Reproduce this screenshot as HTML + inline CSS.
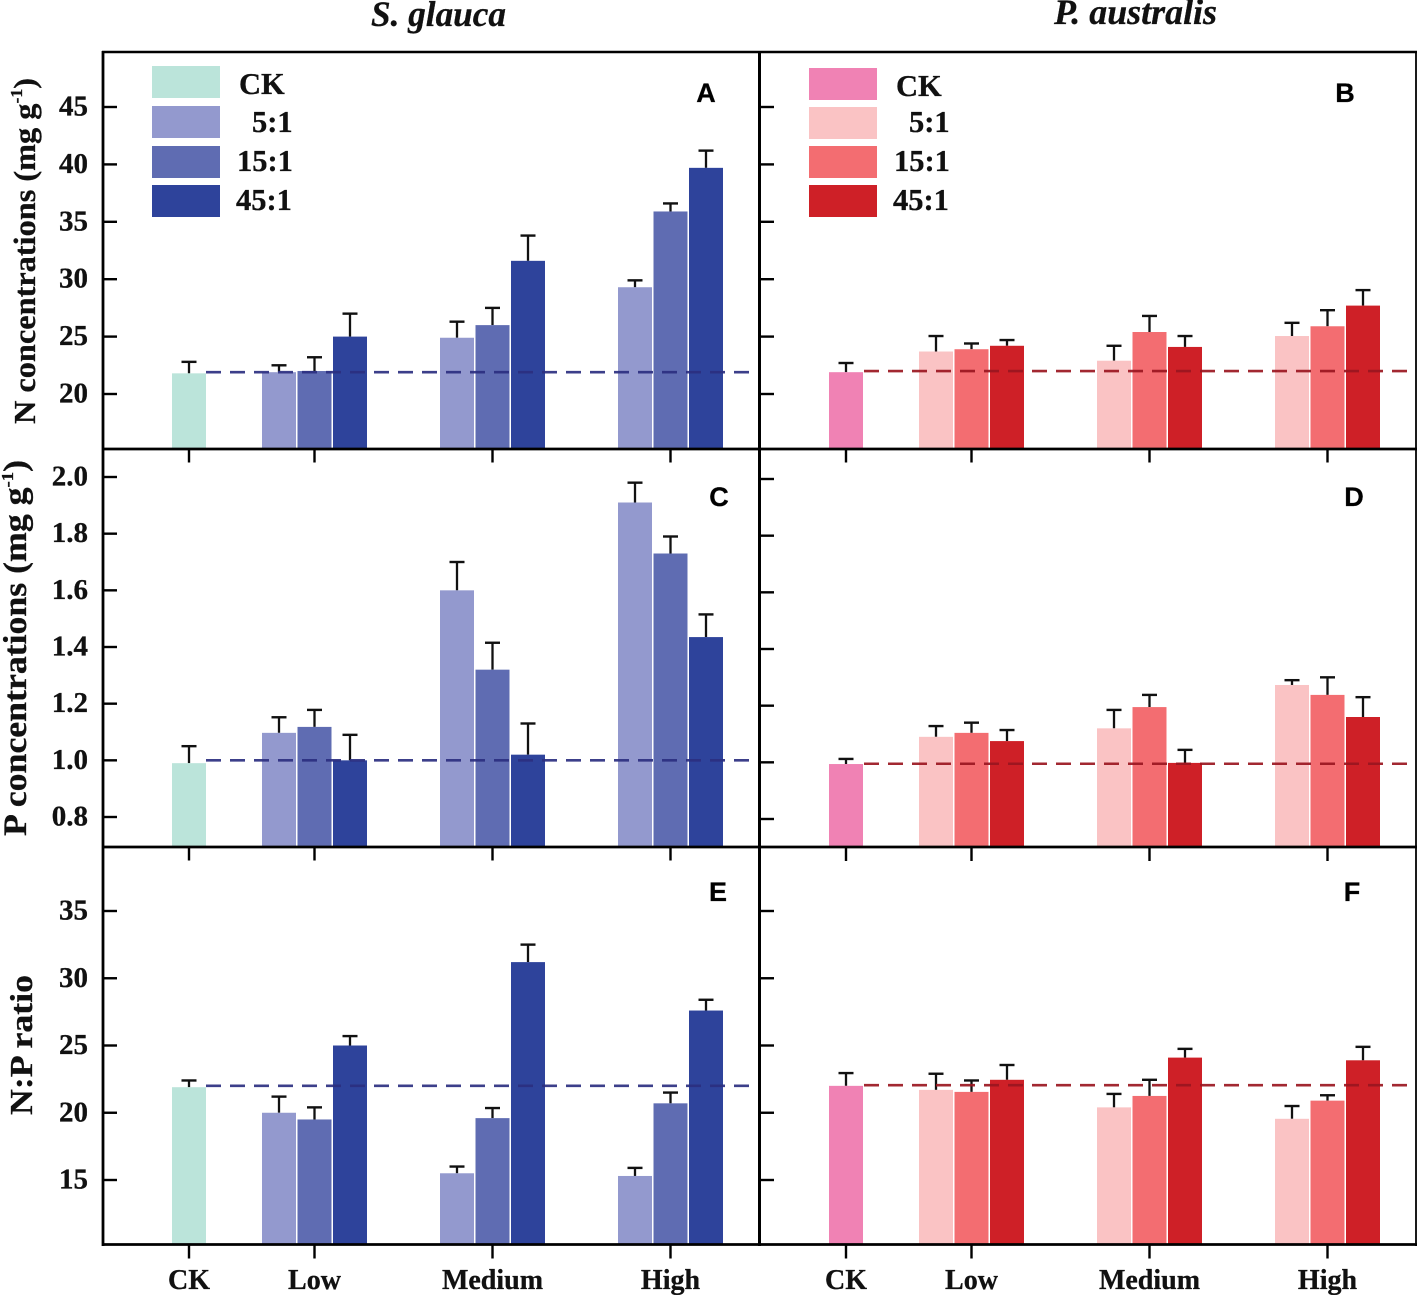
<!DOCTYPE html>
<html>
<head>
<meta charset="utf-8">
<title>N and P concentrations chart</title>
<style>
html,body{margin:0;padding:0;background:#fff;}
svg{display:block;}
text{font-family:"Liberation Serif",serif;font-weight:bold;fill:#111;stroke:#111;stroke-width:0.3px;}
.letter{font-family:"Liberation Sans",sans-serif;font-size:27px;fill:#000;}
</style>
</head>
<body>
<svg id="chart" xmlns="http://www.w3.org/2000/svg" width="1417" height="1295" viewBox="0 0 1417 1295"></svg>
<script>
const categories = ['CK', 'Low', 'Medium', 'High'];
const seriesNames = ['CK', '5:1', '15:1', '45:1'];
const yTicksNitrogen = [20, 25, 30, 35, 40, 45];
const yTicksPhosphorus = [0.8, 1.0, 1.2, 1.4, 1.6, 1.8, 2.0];
const yTicksRatio = [15, 20, 25, 30, 35];

const valuesA = [21.8, 21.9, 22.0, 25.0, 24.9, 26.0, 31.6, 29.3, 35.9, 39.7];
const errorsA = [1.0, 0.6, 1.2, 2.0, 1.4, 1.5, 2.2, 0.6, 0.7, 1.5];
const valuesB = [21.9, 23.7, 23.9, 24.2, 22.9, 25.4, 24.1, 25.05, 25.9, 27.7];
const errorsB = [0.8, 1.35, 0.5, 0.5, 1.3, 1.4, 0.95, 1.15, 1.4, 1.35];
const valuesC = [0.99, 1.097, 1.118, 1.0, 1.6, 1.32, 1.02, 1.91, 1.73, 1.435];
const errorsC = [0.06, 0.055, 0.06, 0.09, 0.10, 0.095, 0.11, 0.07, 0.06, 0.08];
const valuesD = [0.994, 1.09, 1.104, 1.075, 1.12, 1.195, 0.998, 1.273, 1.238, 1.16];
const errorsD = [0.018, 0.038, 0.036, 0.039, 0.065, 0.043, 0.046, 0.017, 0.062, 0.07];
const valuesE = [21.9, 20.0, 19.5, 25.0, 15.5, 19.6, 31.2, 15.3, 20.7, 27.6];
const errorsE = [0.5, 1.2, 0.9, 0.7, 0.5, 0.75, 1.3, 0.6, 0.8, 0.8];
const valuesF = [22.0, 21.7, 21.55, 22.45, 20.4, 21.25, 24.1, 19.55, 20.9, 23.9];
const errorsF = [0.95, 1.2, 0.85, 1.1, 1.0, 1.2, 0.65, 0.95, 0.4, 1.0];

const refA = 21.9, refB = 22.0, refC = 1.0, refD = 0.995, refE = 22.0, refF = 22.05;

const blues = ['#bbe4da', '#9399ce', '#5f6cb2', '#2e439b'];
const reds = ['#f082b4', '#fac3c4', '#f36d71', '#ce2027'];

const svg = document.getElementById('chart');
const NS = 'http://www.w3.org/2000/svg';
function mk(tag, attrs, parent) {
  const el = document.createElementNS(NS, tag);
  for (const k in attrs) el.setAttribute(k, attrs[k]);
  (parent || svg).appendChild(el);
  return el;
}

function groupCenter(x0, i) { return x0 + (i === 0 ? -125.5 : (i - 1) * 178); }
function makeY(v1, y1, v2, y2) { return v => y1 + (v - v1) * (y2 - y1) / (v2 - v1); }

const BW = 34, STEP = 35.5, CAP = 15;

function drawPanel(p) {
  const g = mk('g', {});
  
  
  const y = p.y;
  let k = 0;
  categories.forEach((cat, ci) => {
    const c = groupCenter(p.x0, ci);
    const n = ci === 0 ? 1 : 3;
    for (let s = 0; s < n; s++) {
      const sIdx = ci === 0 ? 0 : s + 1;
      const xc = ci === 0 ? c : c + (s - 1) * STEP;
      const v = p.values[k], e = p.errors[k];
      k++;
      const top = y(v), et = y(v + e);
      const line = mk('line', {x1: xc, x2: xc, y1: top, y2: et, stroke: '#111', 'stroke-width': 2.3}, g);
      
      
      const cap = mk('line', {x1: xc - CAP / 2, x2: xc + CAP / 2, y1: et, y2: et, stroke: '#111', 'stroke-width': 2.4}, g);
      
      
      const bar = mk('rect', {x: xc - BW / 2, y: top, width: BW, height: p.bottom - top, fill: p.colors[sIdx]}, g);
      
      
    }
  });
  const dash = mk('line', {x1: p.dashStart, x2: p.dashEnd, y1: y(p.ref), y2: y(p.ref), stroke: p.dashColor, 'stroke-width': 2.6, 'stroke-dasharray': '15 9', 'stroke-opacity': 0.92}, g);
  
  

  p.ticks.forEach(t => {
    const ty = y(t);
    const tick = mk('line', {x1: p.left, x2: p.left + 14, y1: ty, y2: ty, stroke: '#000', 'stroke-width': 2.4}, g);
    
    
    if (p.showY) {
      const lab = mk('text', {x: 88, y: ty + 8.5, 'text-anchor': 'end', 'font-size': 29}, g);
      lab.textContent = p.fixed ? t.toFixed(p.fixed) : String(t);
      
      
    }
  });
  categories.forEach((cat, ci) => {
    const c = groupCenter(p.x0, ci);
    const tick = mk('line', {x1: c, x2: c, y1: p.bottom, y2: p.bottom + 14, stroke: '#000', 'stroke-width': 2.4}, g);
    
    
    if (p.showX) {
      const lab = mk('text', {x: c, y: 1289, 'text-anchor': 'middle', 'font-size': 28}, g);
      lab.textContent = cat;
      
      
    }
  });
  const letter = mk('text', {x: p.lx, y: p.ly, 'class': 'letter', 'text-anchor': 'middle'}, g);
  letter.textContent = p.id;
  
  
}

const yN = makeY(20, 394, 45, 107);
const yPL = makeY(0.8, 817, 2.0, 477);
const yPR = makeY(0.8, 819, 2.0, 479);
const yR = makeY(15, 1180, 35, 911);
const blueDash = '#2b2f80', redDash = '#9a1620';

drawPanel({id: 'A', x0: 314.5, left: 103, bottom: 448.5, y: yN, values: valuesA, errors: errorsA, ref: refA, ticks: yTicksNitrogen, colors: blues, dashColor: blueDash, dashStart: 206, dashEnd: 757, showY: true, lx: 706, ly: 102});
drawPanel({id: 'B', x0: 971.5, left: 760, bottom: 448.5, y: yN, values: valuesB, errors: errorsB, ref: refB, ticks: yTicksNitrogen, colors: reds, dashColor: redDash, dashStart: 864, dashEnd: 1415, lx: 1345, ly: 102});
drawPanel({id: 'C', x0: 314.5, left: 103, bottom: 846.5, y: yPL, values: valuesC, errors: errorsC, ref: refC, ticks: yTicksPhosphorus, colors: blues, dashColor: blueDash, dashStart: 206, dashEnd: 757, showY: true, fixed: 1, lx: 719, ly: 506});
drawPanel({id: 'D', x0: 971.5, left: 760, bottom: 847, y: yPR, values: valuesD, errors: errorsD, ref: refD, ticks: yTicksPhosphorus, colors: reds, dashColor: redDash, dashStart: 864, dashEnd: 1415, lx: 1354, ly: 506});
drawPanel({id: 'E', x0: 314.5, left: 103, bottom: 1244.5, y: yR, values: valuesE, errors: errorsE, ref: refE, ticks: yTicksRatio, colors: blues, dashColor: blueDash, dashStart: 206, dashEnd: 757, showY: true, showX: true, lx: 718, ly: 901});
drawPanel({id: 'F', x0: 971.5, left: 760, bottom: 1244.5, y: yR, values: valuesF, errors: errorsF, ref: refF, ticks: yTicksRatio, colors: reds, dashColor: redDash, dashStart: 864, dashEnd: 1415, showX: true, lx: 1352, ly: 901});

/* frame lines */
const frame = mk('g', {stroke: '#000'});


mk('line', {x1: 102, x2: 1417, y1: 52, y2: 52, 'stroke-width': 2.6}, frame);
mk('line', {x1: 103, x2: 103, y1: 51, y2: 1246, 'stroke-width': 2.8}, frame);
mk('line', {x1: 759.5, x2: 759.5, y1: 51, y2: 1246, 'stroke-width': 3}, frame);
mk('line', {x1: 1416, x2: 1416, y1: 51, y2: 1246, 'stroke-width': 1.8}, frame);
mk('line', {x1: 102, x2: 1417, y1: 449, y2: 449, 'stroke-width': 2.8}, frame);
mk('line', {x1: 102, x2: 1417, y1: 847, y2: 847, 'stroke-width': 2.8}, frame);
mk('line', {x1: 102, x2: 1417, y1: 1244.5, y2: 1244.5, 'stroke-width': 2.8}, frame);

/* legends */
function drawLegend(name, colors, sx, rows) {
  const g = mk('g', {});
  
  
  rows.forEach((r, i) => {
    const sw = mk('rect', {x: sx, y: r.y, width: 68, height: 32, fill: colors[i]}, g);
    
    
    const t = mk('text', {x: sx + r.dx, y: r.b, 'font-size': 30.5}, g);
    t.textContent = seriesNames[i];
    
    
  });
}
drawLegend('legend-s-glauca', blues, 152, [{y: 66, dx: 87, b: 94}, {y: 106, dx: 100, b: 132}, {y: 146, dx: 85, b: 171}, {y: 185, dx: 84, b: 210}]);
drawLegend('legend-p-australis', reds, 809, [{y: 68, dx: 87, b: 96}, {y: 107, dx: 100, b: 132}, {y: 146, dx: 85, b: 171}, {y: 185, dx: 84, b: 210}]);

/* titles */
function columnTitle(text, x, y, name, length) {
  const t = mk('text', {x: x, y: y, 'text-anchor': 'middle', 'font-size': 35.5, 'font-style': 'italic', textLength: length, lengthAdjust: 'spacingAndGlyphs'});
  t.textContent = text;
  
  
}
columnTitle('S. glauca', 438.5, 26, 'column-title-s-glauca', 135);
columnTitle('P. australis', 1135.5, 24, 'column-title-p-australis', 163);

function yTitle(main, sup, after, cx, cy, length, name, size) {
  const t = mk('text', {transform: 'translate(' + cx + ',' + cy + ') rotate(-90)', 'text-anchor': 'middle', 'font-size': size});
  
  
  t.appendChild(document.createTextNode(main));
  if (sup) {
    const s = mk('tspan', {dy: -13, 'font-size': 17}, t);
    s.textContent = sup;
    const a = mk('tspan', {dy: 13}, t);
    a.textContent = after;
  }
  if (length) { t.setAttribute('textLength', length); t.setAttribute('lengthAdjust', 'spacingAndGlyphs'); }
}
yTitle('N concentrations (mg g', '-1', ')', 35, 251, 346, 'y-axis-title-n', 31);
yTitle('P concentrations (mg g', '-1', ')', 26, 648, 376, 'y-axis-title-p', 32.5);
yTitle('N:P ratio', '', '', 32, 1045, 140, 'y-axis-title-ratio', 32);
</script>
</body>
</html>
